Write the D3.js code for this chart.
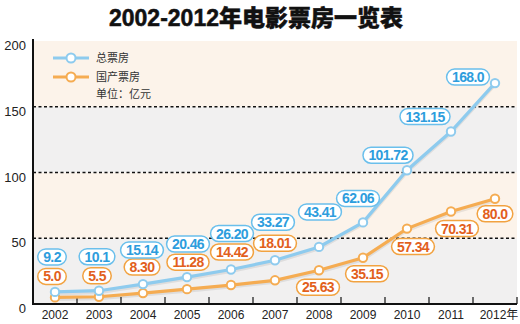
<!DOCTYPE html>
<html>
<head>
<meta charset="utf-8">
<script src="https://cdn.jsdelivr.net/npm/d3@7"></script>
<style>
  body { margin: 0; background: #fff; }
  svg { display: block; font-family: "Liberation Sans", Arial, "Noto Sans CJK SC", sans-serif; }
</style>
</head>
<body>
<svg id="boxChart" width="520" height="324"></svg>
<script>
// box office, unit: 100 million yuan
const years = ['2002', '2003', '2004', '2005', '2006', '2007', '2008', '2009', '2010', '2011', '2012'];
const totalBox = [9.2, 10.1, 15.14, 20.46, 26.20, 33.27, 43.41, 62.06, 101.72, 131.15, 168.0];
const totalText = ['9.2', '10.1', '15.14', '20.46', '26.20', '33.27', '43.41', '62.06', '101.72', '131.15', '168.0'];
const domesticBox = [5.0, 5.5, 8.30, 11.28, 14.42, 18.01, 25.63, 35.15, 57.34, 70.31, 80.0];
const domesticText = ['5.0', '5.5', '8.30', '11.28', '14.42', '18.01', '25.63', '35.15', '57.34', '70.31', '80.0'];
const yTicks = [0, 50, 100, 150, 200];
const xLabels = ['2002', '2003', '2004', '2005', '2006', '2007', '2008', '2009', '2010', '2011', '2012年'];

// where each value bubble sits relative to its point [dx, dy]
const totalOffsets = [[-3, -35], [-2, -34], [-1, -34], [1, -33], [1, -36], [-2, -38], [1, -35], [-5, -24], [-19, -15], [-26, -15], [-27, -6]];
const domesticOffsets = [[-3, -21], [-2, -21], [-1, -26], [1, -27], [1, -33], [0, -37], [-1, 17], [4, 16], [6, 18], [6, 17], [0, 15]];

const margin = { top: 41, right: 3, bottom: 20, left: 33 };
const svg = d3.select('#boxChart');
const width = +svg.attr('width');
const height = +svg.attr('height');
const innerwidth = width - margin.left - margin.right;
const innerheight = height - margin.top - margin.bottom;

const xScale = d3.scaleBand()
    .domain(years)
    .range([margin.left, margin.left + innerwidth]);

const yScale = d3.scaleLinear()
    .domain([0, 200])
    .range([margin.top + innerheight, margin.top]);

const cx = function (i) { return xScale(years[i]) + xScale.bandwidth() / 2; };

// title
svg.append('text')
    .attr('x', 256)
    .attr('y', 26)
    .attr('text-anchor', 'middle')
    .style('font-size', '23px')
    .style('font-weight', '900')
    .style('font-family', '"Liberation Sans", "Noto Sans CJK SC", sans-serif')
    .attr('fill', '#111')
    .attr('stroke', '#111')
    .attr('stroke-width', 0.5)
    .text('2002-2012年电影票房一览表');

// alternating background bands
const bands = [[0, 50, '#f1f0f0'], [50, 100, '#fcf3ea'], [100, 150, '#f1f0f0'], [150, 200, '#fcf3ea']];
svg.selectAll('rect.band')
    .data(bands)
    .join('rect')
    .attr('class', 'band')
    .attr('x', margin.left)
    .attr('width', innerwidth)
    .attr('y', function (d) { return yScale(d[1]); })
    .attr('height', function (d) { return yScale(d[0]) - yScale(d[1]); })
    .attr('fill', function (d) { return d[2]; });

// dashed grid lines
svg.selectAll('line.grid')
    .data([50, 100, 150])
    .join('line')
    .attr('class', 'grid')
    .attr('x1', margin.left)
    .attr('x2', margin.left + innerwidth)
    .attr('y1', function (d) { return yScale(d); })
    .attr('y2', function (d) { return yScale(d); })
    .attr('stroke', '#111')
    .attr('stroke-width', 1.5)
    .attr('stroke-dasharray', '3,2.5');

// y labels
svg.selectAll('text.ylab')
    .data(yTicks)
    .join('text')
    .attr('class', 'ylab')
    .attr('x', 26)
    .attr('y', function (d) { return yScale(d) + 9; })
    .attr('text-anchor', 'end')
    .style('font-size', '13px')
    .attr('fill', '#222')
    .text(function (d) { return d; });

// x ticks at band edges, pointing up
svg.selectAll('line.xtick')
    .data(years)
    .join('line')
    .attr('class', 'xtick')
    .attr('x1', function (d) { return xScale(d) + xScale.bandwidth(); })
    .attr('x2', function (d) { return xScale(d) + xScale.bandwidth(); })
    .attr('y1', yScale(0))
    .attr('y2', yScale(0) - 7)
    .attr('stroke', '#111')
    .attr('stroke-width', 1.2);

svg.selectAll('text.xlab')
    .data(xLabels)
    .join('text')
    .attr('class', 'xlab')
    .attr('x', function (d, i) { return cx(i) + (i === 10 ? 4 : 0); })
    .attr('y', yScale(0) + 15)
    .attr('text-anchor', 'middle')
    .style('font-size', '12px')
    .attr('fill', '#222')
    .text(function (d) { return d; });

// axes lines
svg.append('line')
    .attr('x1', margin.left).attr('x2', margin.left)
    .attr('y1', margin.top - 2).attr('y2', yScale(0) + 1)
    .attr('stroke', '#111').attr('stroke-width', 2);
svg.append('line')
    .attr('x1', margin.left - 1).attr('x2', margin.left + innerwidth)
    .attr('y1', yScale(0)).attr('y2', yScale(0))
    .attr('stroke', '#111').attr('stroke-width', 2);

// series
const series = [
    { values: domesticBox, texts: domesticText, offsets: domesticOffsets, line: '#f5ac52', box: '#f2a240', ink: '#e2601c' },
    { values: totalBox, texts: totalText, offsets: totalOffsets, line: '#8ecbee', box: '#6abfec', ink: '#2d9ddd' }
];

const lineGen = d3.line()
    .x(function (d, i) { return cx(i); })
    .y(function (d) { return yScale(d); });

series.forEach(function (s) {
    // soft shadow under the line
    svg.append('path')
        .datum(s.values)
        .attr('d', lineGen)
        .attr('transform', 'translate(0,2)')
        .attr('fill', 'none')
        .attr('stroke', '#000')
        .attr('stroke-opacity', 0.08)
        .attr('stroke-width', 3);

    svg.append('path')
        .datum(s.values)
        .attr('d', lineGen)
        .attr('fill', 'none')
        .attr('stroke', s.line)
        .attr('stroke-width', 3.2);

    svg.selectAll(null)
        .data(s.values)
        .join('circle')
        .attr('cx', function (d, i) { return cx(i); })
        .attr('cy', function (d) { return yScale(d); })
        .attr('r', 4.2)
        .attr('fill', '#fff')
        .attr('stroke', s.line)
        .attr('stroke-width', 2);
});

// value bubbles
series.forEach(function (s) {
    s.values.forEach(function (v, i) {
        const g = svg.append('g')
            .attr('transform', 'translate(' + (cx(i) + s.offsets[i][0]) + ',' + (yScale(v) + s.offsets[i][1]) + ')');
        const t = g.append('text')
            .attr('text-anchor', 'middle')
            .attr('y', 5)
            .style('font-size', '14px')
            .style('font-weight', 'bold')
            .style('letter-spacing', '-0.6px')
            .attr('fill', s.ink)
            .text(s.texts[i]);
        const w = t.node().getBBox().width + 10;
        g.insert('rect', 'text')
            .attr('x', -w / 2)
            .attr('y', -8)
            .attr('width', w)
            .attr('height', 16)
            .attr('rx', 8)
            .attr('fill', '#fff')
            .attr('stroke', s.box)
            .attr('stroke-width', 1.5);
    });
});

// legend
const legend = [
    { name: '总票房', color: '#8ecbee', y: 58 },
    { name: '国产票房', color: '#f5ac52', y: 77 }
];
legend.forEach(function (d) {
    svg.append('line')
        .attr('x1', 53).attr('x2', 89)
        .attr('y1', d.y).attr('y2', d.y)
        .attr('stroke', d.color).attr('stroke-width', 3.2);
    svg.append('circle')
        .attr('cx', 71).attr('cy', d.y).attr('r', 4.5)
        .attr('fill', '#fff').attr('stroke', d.color).attr('stroke-width', 2);
    svg.append('text')
        .attr('x', 96).attr('y', d.y + 4)
        .style('font-size', '11px')
        .attr('fill', '#333')
        .text(d.name);
});
svg.append('text')
    .attr('x', 96).attr('y', 98)
    .style('font-size', '11px')
    .attr('fill', '#333')
    .text('单位：亿元');
</script>
</body>
</html>
